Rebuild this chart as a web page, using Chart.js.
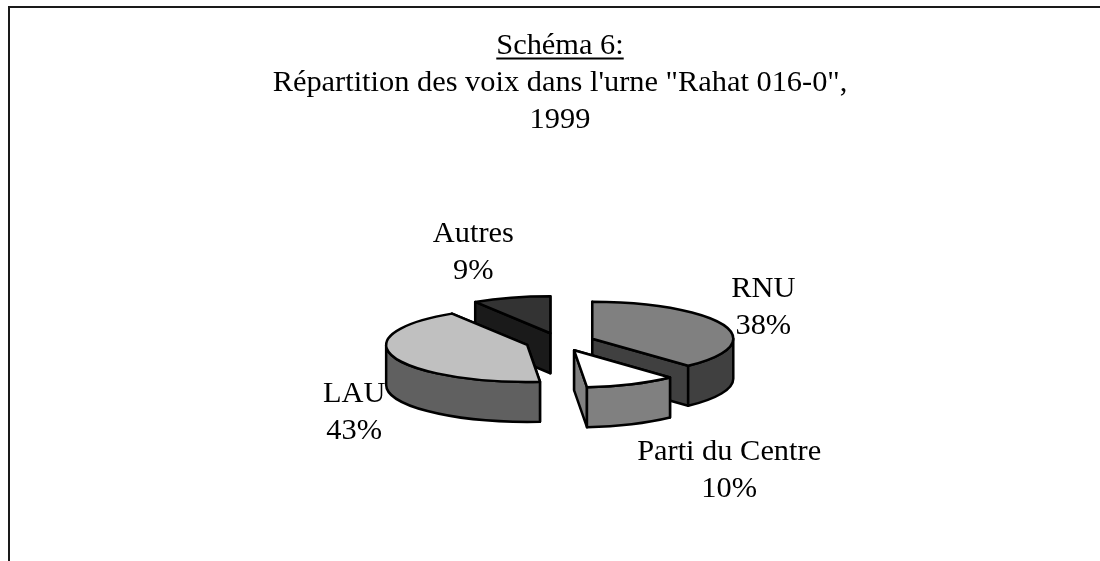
<!DOCTYPE html>
<html lang="fr">
<head>
<meta charset="utf-8">
<title>Schéma 6</title>
<script src="https://cdn.jsdelivr.net/npm/chart.js@4/dist/chart.umd.min.js"></script>
<style>
    html, body { margin: 0; padding: 0; background: #fff; }
    #wrap { position: relative; width: 1100px; height: 561px; overflow: hidden; }
    #frame { position: absolute; left: 8px; top: 6px; right: -4px; bottom: -4px; border: 2px solid #1a1a1a; }
    #chart { position: absolute; left: 0; top: 0; }
</style>
</head>
<body>
<div id="wrap">
    <div id="frame"></div>
    <canvas id="chart" width="1100" height="561"></canvas>
</div>
<script>
const titleLines = ['Schéma 6:', 'Répartition des voix dans l\'urne "Rahat 016-0",', '1999'];
const categories = ['RNU', 'Parti du Centre', 'LAU', 'Autres'];
const shares = [38.1, 10.45, 42.5, 8.95];

const topColors = ['#808080', '#ffffff', '#c0c0c0', '#333333'];
const sideColors = ['#404040', '#808080', '#606060', '#1a1a1a'];
// pixel shift of each label from the tip of its slice
const labelShifts = [[171, -33], [155, 119], [-173, 66], [-77, -82]];
// back to front
const drawOrder = [3, 2, 0, 1];

const FONT_SIZE = 30.4;
const FONT_FAMILY = '"Liberation Serif", "Times New Roman", serif';
const LINE_GAP = 37;
const TITLE_TOP = 27.5;
const TILT = 0.2624;
const DEPTH = 40;
const EXPLODE = 0.246;

function sliceGeometry(arc) {
    const mid = (arc.startAngle + arc.endAngle) / 2;
    const r = arc.outerRadius;
    return {
        x: arc.x + Math.cos(mid) * r * EXPLODE,
        y: arc.y + Math.sin(mid) * r * EXPLODE * TILT,
        a: r,
        b: r * TILT,
        start: arc.startAngle,
        end: arc.endAngle,
    };
}

function paint(ctx, fill) {
    ctx.closePath();
    ctx.fillStyle = fill;
    ctx.fill();
    ctx.stroke();
}

function drawRadialFace(ctx, s, angle, fill) {
    const ex = s.x + Math.cos(angle) * s.a;
    const ey = s.y + Math.sin(angle) * s.b;
    ctx.beginPath();
    ctx.moveTo(s.x, s.y);
    ctx.lineTo(ex, ey);
    ctx.lineTo(ex, ey + DEPTH);
    ctx.lineTo(s.x, s.y + DEPTH);
    paint(ctx, fill);
}

function drawWall(ctx, s, fill) {
    // only the part of the rim that faces the viewer
    const from = Math.max(s.start, 0);
    const to = Math.min(s.end, Math.PI);
    if (from >= to) return;
    ctx.beginPath();
    ctx.ellipse(s.x, s.y, s.a, s.b, 0, from, to);
    ctx.ellipse(s.x, s.y + DEPTH, s.a, s.b, 0, to, from, true);
    paint(ctx, fill);
}

function drawTop(ctx, s, fill) {
    ctx.beginPath();
    ctx.moveTo(s.x, s.y);
    ctx.ellipse(s.x, s.y, s.a, s.b, 0, s.start, s.end);
    paint(ctx, fill);
}

const extrudedPie = {
    id: 'extrudedPie',
    beforeDatasetsDraw(chart) {
        const ctx = chart.ctx;
        const arcs = chart.getDatasetMeta(0).data;
        ctx.save();
        ctx.strokeStyle = '#000';
        ctx.lineWidth = 2.5;
        ctx.lineJoin = 'round';
        drawOrder.forEach((i) => {
            const s = sliceGeometry(arcs[i]);
            drawRadialFace(ctx, s, s.start, sideColors[i]);
            drawRadialFace(ctx, s, s.end, sideColors[i]);
            drawWall(ctx, s, sideColors[i]);
            drawTop(ctx, s, topColors[i]);
        });
        ctx.restore();
        return false;
    },
    afterDraw(chart) {
        const ctx = chart.ctx;
        const arcs = chart.getDatasetMeta(0).data;
        ctx.save();
        ctx.font = FONT_SIZE + 'px ' + FONT_FAMILY;
        ctx.fillStyle = '#000';
        ctx.textAlign = 'center';
        ctx.textBaseline = 'alphabetic';

        // underline of the first title line, the title plugin has no such option
        const box = chart.titleBlock;
        const w = ctx.measureText(titleLines[0]).width;
        const cx = (box.left + box.right) / 2;
        ctx.fillRect(cx - w / 2, box.top + TITLE_TOP + LINE_GAP - 7, w, 2);

        // slice labels
        arcs.forEach((arc, i) => {
            const s = sliceGeometry(arc);
            const lx = s.x + labelShifts[i][0];
            const ly = s.y + labelShifts[i][1];
            ctx.fillText(categories[i], lx, ly - 9);
            ctx.fillText(Math.round(shares[i]) + '%', lx, ly + 28);
        });
        ctx.restore();
    },
};

new Chart(document.getElementById('chart').getContext('2d'), {
    type: 'pie',
    data: {
        labels: categories,
        datasets: [{ data: shares, backgroundColor: topColors, borderWidth: 0 }],
    },
    options: {
        responsive: false,
        animation: false,
        // the pie is sized by the height of the chart area, so the title keeps its full width
        layout: { padding: { left: 20, right: 0, top: 0, bottom: 78 } },
        plugins: {
            legend: { display: false },
            tooltip: { enabled: false },
            title: {
                display: true,
                text: titleLines,
                color: '#000',
                font: { family: FONT_FAMILY, size: FONT_SIZE, weight: 'normal', lineHeight: LINE_GAP / FONT_SIZE },
                padding: { top: TITLE_TOP, bottom: 201 - TITLE_TOP - 3 * LINE_GAP },
            },
        },
    },
    plugins: [extrudedPie],
});
</script>
</body>
</html>
